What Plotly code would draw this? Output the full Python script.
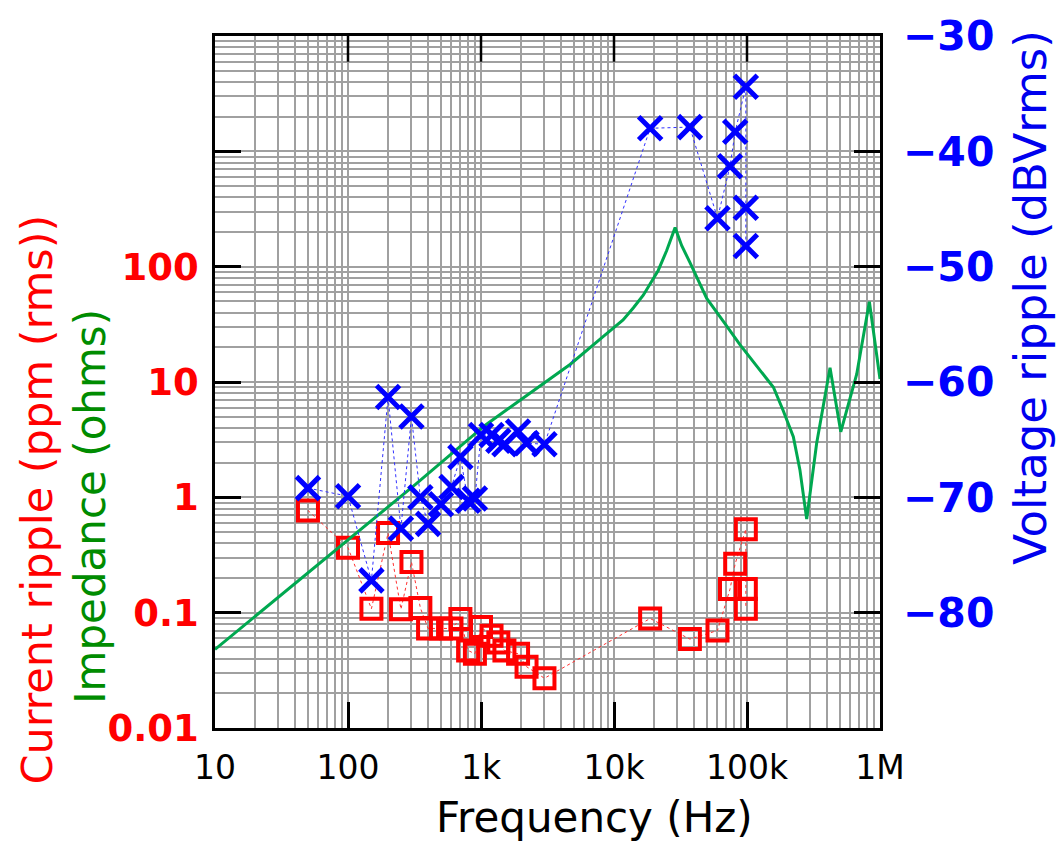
import plotly.graph_objects as go

# ---- data ----
freq_hz = [50, 100, 150, 200, 250, 300, 350, 400, 500, 600, 700, 800, 900,
           1000, 1200, 1350, 1500, 1900, 2200, 3000,
           18700, 37200, 60000, 74500, 81500, 98000, 98000, 98000]
current_ppm = [0.77, 0.366, 0.108, 0.49, 0.107, 0.275, 0.11, 0.073, 0.073, 0.073, 0.088, 0.047, 0.044,
               0.075, 0.063, 0.055, 0.047, 0.044, 0.034, 0.027,
               0.089, 0.059, 0.070, 0.160, 0.265, 0.53, 0.16, 0.108]
voltage_dbv = [-69.2, -69.9, -77.2, -61.3, -72.7, -63.0, -70.0, -72.3, -70.6, -69.1, -66.5, -70.3, -70.1,
               -64.6, -64.6, -65.1, -65.4, -64.3, -65.3, -65.4,
               -38.0, -37.9, -45.8, -41.3, -38.3, -34.4, -44.9, -48.2]

imp_freq_hz = [10, 100, 320, 1070, 4670, 8070, 11700, 14000, 16600, 21500, 24900, 28800, 32300,
               37200, 43000, 49800, 66400, 88500, 118000, 158000, 187000, 223000, 250000, 281000,
               334000, 421000, 507000, 594000, 668000, 832000, 1000000]
imp_ohms = [0.048, 0.43, 1.29, 4.2, 14.2, 24.1, 34.5, 44, 56.6, 92.7, 138, 218, 152,
            109, 76.2, 53.1, 33.5, 21.1, 13.8, 9.0, 5.66, 3.35, 1.73, 0.647,
            2.94, 13.3, 3.7, 7.2, 11.7, 49.7, 10.6]

x_tick_vals = [10, 100, 1e3, 1e4, 1e5, 1e6]
x_tick_text = ["10", "100", "1k", "10k", "100k", "1M"]
left_tick_vals = [0.01, 0.1, 1, 10, 100, 1000, 10000]
left_tick_text = ["0.01", "0.1", "1", "10", "100", "", ""]
right_tick_vals = [-80, -70, -60, -50, -40, -30]

x_minor = [m * 10 ** e for e in range(1, 6) for m in range(2, 10)]
y_minor = [m * 10.0 ** e for e in range(-2, 4) for m in range(2, 10)]

FONT = "DejaVu Sans"
GRID = "#a0a0a0"
TICK_LEN = 26
TICK_W = 2.5
PLOT_H = 842 - 28 - 114
Y_LOG_MIN, Y_LOG_MAX = -2, 4

fig = go.Figure()

fig.add_trace(go.Scatter(
    x=freq_hz, y=current_ppm, mode="lines+markers", yaxis="y",
    line=dict(color="#ff3030", width=1, dash="3px,3px"),
    marker=dict(symbol="square-open", size=20, color="#ff0000",
                line=dict(width=4, color="#ff0000")),
    showlegend=False))

fig.add_trace(go.Scatter(
    x=imp_freq_hz, y=imp_ohms, mode="lines", yaxis="y",
    line=dict(color="#00a850", width=3),
    showlegend=False))

fig.add_trace(go.Scatter(
    x=freq_hz, y=voltage_dbv, mode="lines+markers", yaxis="y2",
    line=dict(color="#3030ff", width=1, dash="3px,3px"),
    marker=dict(symbol="x-thin", size=23, color="#0000ff",
                line=dict(width=5, color="#0000ff")),
    showlegend=False))

# inward major tick marks along the top border (mirror of the bottom x ticks)
top_y = 10.0 ** Y_LOG_MAX
tick_end_y = 10.0 ** (Y_LOG_MAX - (Y_LOG_MAX - Y_LOG_MIN) * TICK_LEN / PLOT_H)
tx, ty = [], []
for xv in x_tick_vals[1:-1]:
    tx += [xv, xv, None]
    ty += [top_y, tick_end_y, None]
fig.add_trace(go.Scatter(
    x=tx, y=ty, mode="lines", yaxis="y", line=dict(color="black", width=TICK_W),
    hoverinfo="skip", showlegend=False, cliponaxis=False))

fig.update_layout(
    width=1056, height=842,
    margin=dict(l=215, r=176, t=28, b=114),
    paper_bgcolor="white", plot_bgcolor="white",
    font=dict(family=FONT, color="black"),
    xaxis=dict(
        type="log", range=[1, 6],
        tickmode="array", tickvals=x_tick_vals, ticktext=x_tick_text,
        ticks="inside", ticklen=TICK_LEN, tickwidth=TICK_W, tickcolor="black",
        showline=True, linecolor="black", linewidth=2.5, mirror=True,
        showgrid=True, gridcolor=GRID, gridwidth=1.6,
        minor=dict(tickmode="array", tickvals=x_minor, showgrid=True,
                   gridcolor=GRID, gridwidth=1.6, ticks=""),
        tickfont=dict(family=FONT, size=33, color="black"),
        ticklabelstandoff=9,
        zeroline=False,
    ),
    yaxis=dict(
        type="log", range=[Y_LOG_MIN, Y_LOG_MAX],
        tickmode="array", tickvals=left_tick_vals, ticktext=left_tick_text,
        ticks="inside", ticklen=TICK_LEN, tickwidth=TICK_W, tickcolor="black",
        showline=True, linecolor="black", linewidth=2.5, mirror=True,
        showgrid=True, gridcolor=GRID, gridwidth=1.6,
        minor=dict(tickmode="array", tickvals=y_minor, showgrid=True,
                   gridcolor=GRID, gridwidth=1.6, ticks=""),
        tickfont=dict(family=FONT, size=37, color="#ff0000", weight="bold"),
        ticklabelstandoff=6,
        zeroline=False,
    ),
    yaxis2=dict(
        overlaying="y", side="right", range=[-90, -30],
        tickmode="array", tickvals=right_tick_vals,
        ticks="inside", ticklen=TICK_LEN, tickwidth=TICK_W, tickcolor="black",
        showline=False, showgrid=False, zeroline=False,
        tickfont=dict(family=FONT, size=41, color="#0000ff", weight="bold"),
        ticklabelstandoff=22,
    ),
    annotations=[
        dict(text="Frequency (Hz)", x=0.570, y=-0.129, xref="paper", yref="paper",
             xanchor="center", yanchor="middle", showarrow=False,
             font=dict(family=FONT, size=42, color="black")),
        dict(text="Current ripple (ppm (rms))", x=-0.2677, y=0.33, xref="paper", yref="paper",
             xanchor="center", yanchor="middle", showarrow=False, textangle=-90,
             font=dict(family=FONT, size=43, color="#ff0000")),
        dict(text="Impedance (ohms)", x=-0.1865, y=0.321, xref="paper", yref="paper",
             xanchor="center", yanchor="middle", showarrow=False, textangle=-90,
             font=dict(family=FONT, size=42, color="#008c00")),
        dict(text="Voltage ripple (dBVrms)", x=1.227, y=0.623, xref="paper", yref="paper",
             xanchor="center", yanchor="middle", showarrow=False, textangle=-90,
             font=dict(family=FONT, size=45, color="#0000ee")),
    ],
)

fig.write_html("out.html")
